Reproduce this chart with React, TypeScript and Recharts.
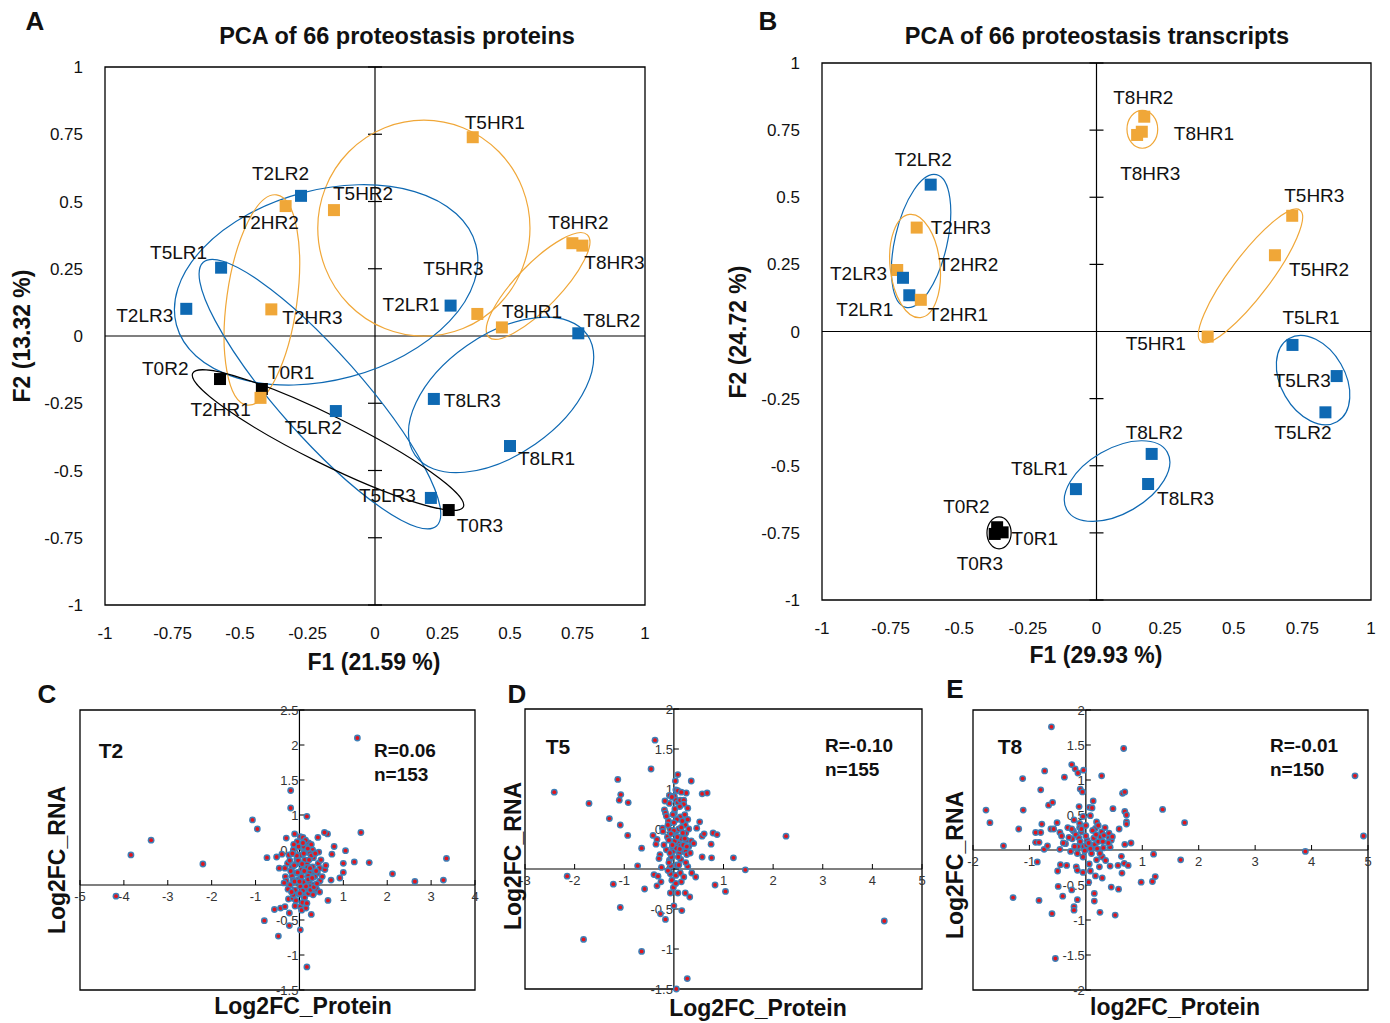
import React from "react";
import { ScatterChart, Scatter, XAxis, YAxis, ReferenceLine, ReferenceArea } from "recharts";

const FONT = '"Liberation Sans", Arial, Helvetica, sans-serif';
const BLUE = "#0E69B3";
const ORANGE = "#F0A738";
const BLACK = "#000000";
const DOT_OUTER = "#3F7FB6";
const DOT_INNER = "#E3141C";

// ---- Panel A: PCA of proteins ----
const proteinSamples = ["T5HR1", "T2LR2", "T2HR2", "T5HR2", "T8HR2", "T8HR3", "T5LR1", "T5HR3", "T2LR1", "T8HR1", "T8LR2",
  "T2LR3", "T2HR3", "T0R2", "T0R1", "T2HR1", "T5LR2", "T8LR3", "T8LR1", "T5LR3", "T0R3"];
const proteinF1 = [0.362, -0.274, -0.331, -0.152, 0.731, 0.768, -0.57, 0.379, 0.28, 0.47, 0.753,
  -0.699, -0.384, -0.574, -0.419, -0.424, -0.145, 0.218, 0.5, 0.207, 0.273];
const proteinF2 = [0.739, 0.521, 0.483, 0.468, 0.345, 0.336, 0.254, 0.082, 0.113, 0.032, 0.01,
  0.101, 0.099, -0.16, -0.197, -0.23, -0.279, -0.234, -0.409, -0.602, -0.647];
// confidence ellipses: [centre F1, centre F2, radius 1, radius 2, rotation deg, group]
const proteinEllipses: [number, number, number, number, number, string][] = [
  [0.181, 0.401, 0.393, 0.4, 0, "HR"],
  [-0.181, 0.19, 0.574, 0.352, -15, "LR"],
  [-0.419, 0.134, 0.13, 0.393, 8, "HR"],
  [-0.204, -0.216, 0.652, 0.156, 48.5, "LR"],
  [-0.174, -0.387, 0.559, 0.089, 26.3, "T0"],
  [0.604, 0.186, 0.263, 0.081, -46, "HR"],
  [0.467, -0.219, 0.389, 0.222, -35, "LR"],
];
const proteinLabelOffset: Record<string, [number, number]> = {
  T5HR1: [-8, -15], T2LR2: [-49, -23], T2HR2: [-47, 16], T5HR2: [-1, -17], T8HR2: [-24, -21], T8HR3: [2, 17],
  T5LR1: [-71, -15], T5HR3: [-54, -46], T2LR1: [-68, -1], T8HR1: [0, -16], T8LR2: [5, -13], T2LR3: [-70, 7],
  T2HR3: [11, 8], T0R2: [-78, -11], T0R1: [6, -17], T2HR1: [-70, 11], T5LR2: [-51, 16], T8LR3: [10, 1],
  T8LR1: [8, 12], T5LR3: [-72, -3], T0R3: [8, 15],
};

// ---- Panel B: PCA of transcripts ----
const transcriptSamples = ["T2LR2", "T2HR3", "T2HR2", "T2LR3", "T2LR1", "T2HR1", "T8HR2", "T8HR1", "T8HR3", "T5HR3", "T5HR2",
  "T5HR1", "T5LR1", "T5LR3", "T5LR2", "T8LR2", "T8LR3", "T8LR1", "T0R2", "T0R1", "T0R3"];
const transcriptF1 = [-0.604, -0.655, -0.726, -0.705, -0.682, -0.64, 0.174, 0.165, 0.148, 0.713, 0.65,
  0.405, 0.714, 0.875, 0.834, 0.201, 0.188, -0.075, -0.362, -0.342, -0.371];
const transcriptF2 = [0.547, 0.387, 0.229, 0.2, 0.135, 0.118, 0.8, 0.744, 0.732, 0.431, 0.284,
  -0.019, -0.05, -0.166, -0.301, -0.456, -0.568, -0.587, -0.729, -0.748, -0.754];
const transcriptEllipses: [number, number, number, number, number, string][] = [
  [-0.639, 0.337, 0.095, 0.248, 13, "LR"],
  [-0.661, 0.244, 0.091, 0.189, -6, "HR"],
  [0.167, 0.753, 0.056, 0.069, 0, "HR"],
  [0.561, 0.207, 0.3, 0.073, -53, "HR"],
  [0.789, -0.181, 0.175, 0.117, 60, "LR"],
  [0.075, -0.557, 0.211, 0.118, -30, "LR"],
  [-0.355, -0.75, 0.044, 0.058, 0, "T0"],
];
const transcriptLabelOffset: Record<string, [number, number]> = {
  T2LR2: [-36, -25], T2HR3: [14, 0], T2HR2: [41, -6], T2LR3: [-73, -4], T2LR1: [-73, 14], T2HR1: [7, 15],
  T8HR2: [-31, -19], T8HR1: [32, 2], T8HR3: [-17, 38], T5HR3: [-8, -20], T5HR2: [14, 14], T5HR1: [-82, 7],
  T5LR1: [-10, -28], T5LR3: [-63, 4], T5LR2: [-51, 20], T8LR2: [-26, -22], T8LR3: [9, 14], T8LR1: [-65, -21],
  T0R2: [-54, -21], T0R1: [9, 6], T0R3: [-38, 29],
};

const pcaTicks = [-1, -0.75, -0.5, -0.25, 0, 0.25, 0.5, 0.75, 1];

// ---- Panels C, D, E: log2FC protein vs RNA ----
const t2Points: [number, number][] = [
  [-4.18, -0.16], [-3.84, 0.43], [-3.38, 0.64], [-2.2, 0.3], [-1.07, 0.93], [-0.96, 0.8], [-0.2, 1.35], [-0.2, 1.1],
  [0.17, 0.98], [1.32, 2.1], [1.4, 0.75], [3.35, 0.38], [3.28, 0.07], [2.63, 0.05], [2.12, 0.16], [1.59, 0.32],
  [1.25, 0.33], [1.05, 0.49], [1.0, 0.31], [1.0, 0.18], [0.92, 0.1], [0.79, 0.55], [0.74, 0.44], [0.64, 0.73],
  [0.57, 0.75], [0.42, 0.68], [0.65, -0.22], [0.27, -0.42], [0.17, -1.17], [0.02, -0.64], [-0.48, -0.73], [-0.8, -0.51],
  [-0.57, -0.35], [-0.43, -0.33], [-0.23, -0.4], [-0.23, -0.58], [-0.25, -0.2], [-0.15, -0.19], [-0.33, -0.31], [0.02, -0.31],
  [0.05, -0.36], [0.15, -0.33], [-0.74, 0.39], [-0.52, 0.4], [-0.4, 0.44], [-0.3, 0.67], [-0.11, 0.73], [0.02, 0.69],
  [0.08, 0.68], [0.21, 0.6], [0.14, 0.55], [0.3, 0.5], [0.24, 0.45], [0.12, 0.47], [-0.02, 0.55], [-0.14, 0.5],
  [-0.24, 0.43], [-0.27, 0.31], [-0.46, 0.24], [-0.33, 0.24], [-0.17, 0.25], [-0.06, 0.37], [-0.08, 0.3], [0.02, 0.43],
  [0.17, 0.31], [0.32, 0.39], [0.43, 0.31], [0.46, 0.24], [0.58, 0.22], [0.49, 0.36], [0.29, 0.17], [0.41, 0.17],
  [0.23, 0.18], [0.2, 0.13], [0.06, 0.19], [-0.08, 0.17], [-0.17, 0.13], [-0.32, 0.12], [-0.3, 0.06], [-0.14, 0.07],
  [-0.02, 0.08], [0.09, 0.04], [0.22, 0.05], [0.47, 0.06], [0.72, 0.07], [0.32, 0.0], [0.24, -0.02], [0.14, -0.05],
  [0.02, -0.02], [-0.1, -0.07], [-0.21, 0.0], [0.39, -0.06], [0.46, -0.1], [0.32, -0.12], [0.2, -0.12], [0.09, -0.16],
  [-0.02, -0.13], [-0.14, -0.14], [0.05, 0.22], [0.12, 0.36], [-0.05, 0.62], [0.35, 0.12], [0.27, 0.42], [-0.11, 0.05],
  [0.08, -0.08], [0.18, 0.25], [-0.2, 0.2], [0.3, 0.26], [0.1, 0.55], [-0.03, 0.35], [0.15, -0.02], [0.38, 0.2],
  [-0.26, -0.06], [0.25, -0.07], [0.05, 0.12], [-0.08, -0.22], [0.2, 0.08], [0.12, -0.18], [0.44, 0.47], [-0.12, 0.28],
  [0.33, -0.03], [0.06, 0.3], [-0.18, -0.1], [0.14, 0.64], [0.27, 0.58], [0.01, -0.12], [-0.35, 0.03], [0.52, 0.12],
  [0.1, 0.45], [-0.06, 0.42], [0.22, 0.36], [0.4, 0.02], [0.07, -0.25], [-0.13, 0.58], [0.29, 0.1], [0.17, -0.26],
  [-0.22, 0.35], [0.11, 0.2], [0.36, 0.45], [0.0, 0.05], [-0.1, -0.3], [0.24, 0.24], [0.6, 0.28], [-0.04, 0.18],
  [0.19, 0.52], [0.08, 0.6], [0.31, -0.14], [-0.16, 0.45],
];
const t5Points: [number, number][] = [
  [-2.41, 0.96], [-2.15, -0.09], [-1.71, 0.82], [-1.82, -0.88], [-1.3, 0.63], [-1.22, -0.19], [-1.13, 1.12], [-1.07, 0.93],
  [-1.1, 0.86], [-0.92, 0.83], [-1.08, 0.55], [-0.93, 0.42], [-1.08, -0.48], [-0.65, 0.26], [-0.73, 0.04], [-0.59, -0.25],
  [-0.65, -1.03], [-0.46, 1.25], [-0.38, 1.61], [-0.42, 0.42], [-0.4, -0.07], [-0.34, 0.37], [-0.36, 0.31], [-0.32, -0.09],
  [-0.28, 0.18], [-0.3, 0.13], [-0.34, -0.21], [-0.26, -0.16], [-0.27, -0.56], [-0.17, -0.63], [-0.23, 0.51], [-0.19, 0.74],
  [-0.17, 0.7], [-0.09, 0.92], [-0.09, 0.82], [-0.11, 0.6], [-0.13, 0.4], [-0.15, 0.24], [-0.09, 0.11], [-0.06, 0.04],
  [-0.07, -0.06], [-0.04, -0.14], [-0.07, -0.3], [-0.01, -0.23], [0.0, -0.46], [0.03, 1.1], [0.04, 0.99], [0.08, 1.18],
  [0.01, 0.91], [0.04, 0.86], [0.08, 0.83], [0.01, 0.7], [0.04, 0.47], [0.07, 0.4], [0.01, 0.32], [0.09, 0.32],
  [0.15, 0.38], [0.13, 0.29], [0.17, 0.22], [0.11, 0.2], [0.06, 0.05], [0.04, -0.08], [0.13, -0.05], [0.15, -0.16],
  [0.08, -0.3], [0.16, -0.52], [0.13, 0.86], [0.13, 0.65], [0.2, 0.86], [0.25, 0.95], [0.2, 0.81], [0.28, 0.76],
  [0.22, 0.68], [0.23, 0.55], [0.24, 0.45], [0.25, 0.36], [0.23, 0.28], [0.3, 0.28], [0.24, 0.22], [0.28, 0.03],
  [0.23, -0.3], [0.32, -0.35], [0.36, -0.05], [0.35, 1.1], [0.44, -0.1], [0.46, 0.51], [0.52, 0.59], [0.57, 0.41],
  [0.61, 0.44], [0.57, 0.94], [0.67, 0.95], [0.75, 0.31], [0.79, 0.45], [0.87, 0.43], [0.76, 0.14], [0.57, 0.15],
  [0.83, -0.2], [1.04, -0.28], [1.2, 0.14], [1.44, -0.01], [2.26, 0.41], [4.24, -0.65], [0.27, -1.37], [0.05, -1.5],
  [-0.02, 0.22], [-0.03, 0.28], [-0.07, 0.49], [0.02, 0.35], [-0.05, 0.15], [0.1, 0.5], [0.18, 0.45], [-0.12, 0.55],
  [0.06, 0.62], [0.12, 0.78], [-0.02, 0.68], [0.22, 0.38], [0.3, 0.5], [-0.2, 0.3], [0.05, 0.26], [0.14, 0.12],
  [-0.1, 0.08], [0.26, 0.18], [0.08, 0.98], [-0.04, 0.9], [0.17, 0.6], [0.35, 0.35], [-0.15, 0.66], [0.0, 0.48],
  [0.1, 0.05], [-0.25, 0.02], [0.2, -0.1], [0.04, -0.18], [-0.08, 0.2], [0.28, 0.62], [0.15, 0.96], [-0.18, 0.85],
  [0.07, 0.4], [0.33, 0.2], [-0.03, 0.3], [0.12, 0.25], [0.24, 0.08], [-0.12, -0.02], [0.02, 0.75], [0.19, 0.3],
  [-0.06, 0.44], [0.4, 0.32], [0.09, 0.15], [-0.22, 0.47], [0.26, 0.28], [0.0, 0.58], [0.15, 0.52], [-0.1, 0.36],
];
const t8Points: [number, number][] = [
  [-1.77, 0.57], [-1.7, 0.39], [-1.46, 0.06], [-1.29, -0.68], [-1.19, 0.3], [-1.12, 1.02], [-1.11, 0.57], [-0.89, 0.25],
  [-0.89, 0.11], [-0.86, -0.17], [-0.83, -0.72], [-0.83, 0.11], [-0.8, 0.86], [-0.8, 0.25], [-0.78, 0.37], [-0.74, 0.01],
  [-0.73, 1.13], [-0.68, 0.06], [-0.66, 0.64], [-0.62, 0.3], [-0.59, 0.68], [-0.61, 1.76], [-0.6, -0.91], [-0.57, 0.3],
  [-0.54, -1.55], [-0.51, 0.39], [-0.49, -0.52], [-0.5, -0.3], [-0.46, 0.01], [-0.46, 0.25], [-0.45, -0.21], [-0.43, 0.2],
  [-0.41, -0.66], [-0.38, 1.04], [-0.36, 0.09], [-0.34, -0.22], [-0.32, 0.32], [-0.27, -0.02], [-0.25, -0.57], [-0.25, 1.22],
  [-0.24, 0.16], [-0.22, 0.27], [-0.21, 0.43], [-0.21, -0.81], [-0.21, -0.86], [-0.19, 1.16], [-0.18, 0.22], [-0.17, -0.24],
  [-0.15, -0.29], [-0.15, -0.71], [-0.14, 0.05], [-0.14, 1.1], [-0.12, 0.17], [-0.12, 0.62], [-0.11, 0.38], [-0.11, 0.32],
  [-0.1, 0.87], [-0.08, 0.26], [-0.06, 0.83], [-0.05, 0.48], [-0.05, -0.32], [-0.04, 1.14], [-0.04, 0.05], [-0.02, -0.01],
  [0.01, 0.07], [0.02, 0.14], [0.05, -0.46], [0.06, 0.61], [0.08, -0.3], [0.08, 0.49], [0.11, 0.6], [0.13, 0.7],
  [0.13, 0.05], [0.14, 0.17], [0.16, 0.08], [0.17, 0.31], [0.17, -0.37], [0.15, -0.62], [0.15, -0.73], [0.19, -0.14],
  [0.19, 0.4], [0.22, 0.12], [0.24, -0.24], [0.25, -0.89], [0.26, 0.19], [0.28, 1.06], [0.28, 0.26], [0.29, -0.1],
  [0.29, -0.4], [0.31, 0.03], [0.32, 0.21], [0.34, 0.32], [0.41, 0.18], [0.41, 0.24], [0.43, 0.04], [0.43, -0.23],
  [0.45, 0.14], [0.47, 0.19], [0.45, -0.53], [0.48, 0.59], [0.52, -0.93], [0.57, -0.22], [0.58, -0.56], [0.59, 0.3],
  [0.63, -0.09], [0.64, -0.33], [0.65, 0.81], [0.67, 1.45], [0.69, 0.83], [0.68, -0.19], [0.69, 0.08], [0.69, 0.55],
  [0.72, 0.5], [0.72, 0.4], [0.72, 0.37], [0.75, -0.22], [0.8, 0.1], [0.98, -0.46], [1.18, -0.45], [1.2, -0.06],
  [1.23, -0.38], [1.36, 0.58], [1.68, -0.14], [1.75, 0.39], [3.89, -0.02], [4.77, 1.06], [4.92, 0.2],
  [0.05, 0.1], [-0.1, 0.12], [0.2, 0.02], [-0.2, 0.05], [0.1, -0.05], [0.0, 0.2], [0.3, 0.12], [-0.3, 0.18],
  [0.12, 0.28], [-0.05, -0.1], [0.25, -0.05], [0.4, 0.1], [-0.4, 0.1], [0.06, -0.2], [0.18, 0.22], [-0.15, -0.05],
  [0.35, -0.15], [0.0, 0.35], [-0.25, 0.3], [0.22, 0.35], [0.08, 0.02], [-0.08, 0.3],
];

const t2TicksX = [-5, -4, -3, -2, -1, 1, 2, 3, 4];
const t2TicksY = [-1.5, -1, -0.5, 0, 0.5, 1, 1.5, 2, 2.5];
const t5TicksX = [-3, -2, -1, 1, 2, 3, 4, 5];
const t5TicksY = [-1.5, -1, -0.5, 0, 0.5, 1, 1.5, 2];
const t8TicksX = [-2, -1, 1, 2, 3, 4, 5];
const t8TicksY = [-2, -1.5, -1, -0.5, 0, 0.5, 1, 1.5, 2];

const groupColor: Record<string, string> = { HR: ORANGE, LR: BLUE, T0: BLACK };
const sampleColor = (name: string) => (name.startsWith("T0") ? BLACK : name.includes("HR") ? ORANGE : BLUE);

const Txt = ({ x, y, size, anchor = "middle", children }: any) => (
  <div
    style={{
      position: "absolute",
      left: x,
      top: y,
      fontFamily: FONT,
      fontSize: size,
      fontWeight: 700,
      lineHeight: 1,
      whiteSpace: "nowrap",
      color: "#111",
      transform: `translate(${anchor === "middle" ? "-50%" : "0"}, -50%)`,
    }}
  >
    {children}
  </div>
);

const RotTxt = ({ x, y, size, children }: any) => (
  <div
    style={{
      position: "absolute",
      left: x,
      top: y,
      fontFamily: FONT,
      fontSize: size,
      fontWeight: 700,
      lineHeight: 1,
      whiteSpace: "nowrap",
      color: "#111",
      transform: "translate(-50%, -50%) rotate(-90deg)",
    }}
  >
    {children}
  </div>
);

const ellipseShape = (k: number) => (props: any) => {
  const { cx, cy, payload } = props;
  return (
    <ellipse
      cx={cx}
      cy={cy}
      rx={payload.rx * k}
      ry={payload.ry * k}
      transform={`rotate(${payload.angle} ${cx} ${cy})`}
      fill="none"
      stroke={payload.color}
      strokeWidth={1.2}
    />
  );
};

const squareShape = (props: any) => {
  const { cx, cy, payload } = props;
  return <rect x={cx - 6} y={cy - 6} width={12} height={12} fill={payload.color} />;
};

const labelShape = (offsets: Record<string, [number, number]>) => (props: any) => {
  const { cx, cy, payload } = props;
  const [dx, dy] = offsets[payload.name] || [8, 0];
  return (
    <text x={cx + dx} y={cy + dy} dy="0.35em" fontSize={19} fontFamily={FONT} fill="#111">
      {payload.name}
    </text>
  );
};

const centreTick = (props: any) => {
  const { cx, cy } = props;
  return <line x1={cx - 7} x2={cx + 7} y1={cy} y2={cy} stroke="#000" strokeWidth={1.2} />;
};

const PcaChart = ({ samples, f1, f2, ellipses, offsets, width, height, margin, k }: any) => {
  const points = samples.map((name: string, i: number) => ({ name, x: f1[i], y: f2[i], color: sampleColor(name) }));
  const ells = ellipses.map((e: any) => ({ x: e[0], y: e[1], rx: e[2], ry: e[3], angle: e[4], color: groupColor[e[5]] }));
  const marks = pcaTicks.filter((v) => v !== 0).map((v) => ({ x: 0, y: v }));
  const tick = { fontSize: 17, fill: "#111", fontFamily: FONT };
  return (
    <ScatterChart width={width} height={height} margin={margin}>
      <XAxis type="number" dataKey="x" domain={[-1, 1]} ticks={pcaTicks} interval={0} tickFormatter={(v) => String(v)}
        axisLine={false} tickLine={false} tickSize={0} tickMargin={22} height={40} tick={tick} />
      <YAxis type="number" dataKey="y" domain={[-1, 1]} ticks={pcaTicks} interval={0} tickFormatter={(v) => String(v)}
        axisLine={false} tickLine={false} tickSize={0} tickMargin={22} width={100} tick={tick} />
      <ReferenceArea x1={-1} x2={1} y1={-1} y2={1} fill="none" fillOpacity={0} stroke="#000" strokeWidth={1.3} />
      <ReferenceLine x={0} stroke="#000" strokeWidth={1.2} />
      <ReferenceLine y={0} stroke="#000" strokeWidth={1.2} />
      <Scatter data={marks} shape={centreTick} isAnimationActive={false} />
      <Scatter data={ells} shape={ellipseShape(k)} isAnimationActive={false} />
      <Scatter data={points} shape={squareShape} isAnimationActive={false} />
      <Scatter data={points} shape={labelShape(offsets)} isAnimationActive={false} />
    </ScatterChart>
  );
};

const dotShape = (props: any) => {
  const { cx, cy } = props;
  return (
    <g>
      <circle cx={cx} cy={cy} r={3.4} fill={DOT_OUTER} />
      <circle cx={cx} cy={cy} r={1.9} fill={DOT_INNER} />
    </g>
  );
};

const xTickShape = (props: any) => {
  const { cx, cy, payload } = props;
  return (
    <g>
      <line x1={cx} x2={cx} y1={cy} y2={cy - 5} stroke="#000" strokeWidth={1} />
      <text x={cx} y={cy + 11} dy="0.35em" textAnchor="middle" fontSize={13} fontFamily={FONT} fill="#333">
        {payload.x}
      </text>
    </g>
  );
};

const yTickShape = (props: any) => {
  const { cx, cy, payload } = props;
  return (
    <g>
      <line x1={cx} x2={cx + 5} y1={cy} y2={cy} stroke="#000" strokeWidth={1} />
      <text x={cx - 1} y={cy} dy="0.35em" textAnchor="end" fontSize={13} fontFamily={FONT} fill="#333">
        {payload.y}
      </text>
    </g>
  );
};

const FcChart = ({ points, xDomain, yDomain, ticksX, ticksY, width, height, margin }: any) => {
  const data = points.map((p: [number, number]) => ({ x: p[0], y: p[1] }));
  const xt = ticksX.map((v: number) => ({ x: v, y: 0 }));
  const yt = ticksY.map((v: number) => ({ x: 0, y: v }));
  return (
    <ScatterChart width={width} height={height} margin={margin}>
      <XAxis type="number" dataKey="x" domain={xDomain} hide />
      <YAxis type="number" dataKey="y" domain={yDomain} hide />
      <ReferenceArea x1={xDomain[0]} x2={xDomain[1]} y1={yDomain[0]} y2={yDomain[1]} fill="none" fillOpacity={0}
        stroke="#000" strokeWidth={1.3} />
      <ReferenceLine x={0} stroke="#000" strokeWidth={1.2} />
      <ReferenceLine y={0} stroke="#000" strokeWidth={1.2} />
      <Scatter data={xt} shape={xTickShape} isAnimationActive={false} />
      <Scatter data={yt} shape={yTickShape} isAnimationActive={false} />
      <Scatter data={data} shape={dotShape} isAnimationActive={false} />
    </ScatterChart>
  );
};

const Box = ({ left, top, children }: any) => (
  <div style={{ position: "absolute", left, top }}>{children}</div>
);

export default function App() {
  return (
    <div style={{ position: "absolute", left: 0, top: 0, width: 1390, height: 1023, background: "#fff", overflow: "hidden" }}>
      <Box left={0} top={0}>
        <PcaChart samples={proteinSamples} f1={proteinF1} f2={proteinF2} ellipses={proteinEllipses}
          offsets={proteinLabelOffset} width={660} height={690} k={270}
          margin={{ top: 67, right: 15, left: 5, bottom: 45 }} />
      </Box>
      <Box left={720} top={0}>
        <PcaChart samples={transcriptSamples} f1={transcriptF1} f2={transcriptF2} ellipses={transcriptEllipses}
          offsets={transcriptLabelOffset} width={670} height={690} k={274.5}
          margin={{ top: 63, right: 19, left: 2, bottom: 50 }} />
      </Box>
      <Box left={0} top={690}>
        <FcChart points={t2Points} xDomain={[-5, 4]} yDomain={[-1.5, 2.5]} ticksX={t2TicksX} ticksY={t2TicksY}
          width={490} height={330} margin={{ top: 20, right: 15, left: 80, bottom: 30 }} />
      </Box>
      <Box left={500} top={690}>
        <FcChart points={t5Points} xDomain={[-3, 5]} yDomain={[-1.5, 2]} ticksX={t5TicksX} ticksY={t5TicksY}
          width={440} height={330} margin={{ top: 19, right: 18, left: 25, bottom: 31 }} />
      </Box>
      <Box left={950} top={690}>
        <FcChart points={t8Points} xDomain={[-2, 5]} yDomain={[-2, 2]} ticksX={t8TicksX} ticksY={t8TicksY}
          width={440} height={330} margin={{ top: 20, right: 22, left: 23, bottom: 30 }} />
      </Box>

      <Txt x={35} y={21} size={26}>A</Txt>
      <Txt x={768} y={21} size={26}>B</Txt>
      <Txt x={47} y={694} size={26}>C</Txt>
      <Txt x={517} y={694} size={26}>D</Txt>
      <Txt x={955} y={689} size={26}>E</Txt>

      <Txt x={397} y={37} size={23.5}>PCA of 66 proteostasis proteins</Txt>
      <Txt x={1097} y={37} size={23.5}>PCA of 66 proteostasis transcripts</Txt>
      <Txt x={374} y={662} size={23}>F1 (21.59 %)</Txt>
      <RotTxt x={22} y={336} size={23}>F2 (13.32 %)</RotTxt>
      <Txt x={1096} y={655} size={23}>F1 (29.93 %)</Txt>
      <RotTxt x={738} y={332} size={23}>F2 (24.72 %)</RotTxt>

      <Txt x={303} y={1006} size={23}>Log2FC_Protein</Txt>
      <RotTxt x={57} y={860} size={23}>Log2FC_RNA</RotTxt>
      <Txt x={111} y={750} size={21}>T2</Txt>
      <Txt x={374} y={750} size={19} anchor="start">R=0.06</Txt>
      <Txt x={374} y={774} size={19} anchor="start">n=153</Txt>

      <Txt x={758} y={1008} size={23}>Log2FC_Protein</Txt>
      <RotTxt x={513} y={856} size={23}>Log2FC_RNA</RotTxt>
      <Txt x={558} y={746} size={21}>T5</Txt>
      <Txt x={825} y={745} size={19} anchor="start">R=-0.10</Txt>
      <Txt x={825} y={769} size={19} anchor="start">n=155</Txt>

      <Txt x={1175} y={1007} size={23}>log2FC_Protein</Txt>
      <RotTxt x={955} y={865} size={23}>Log2FC_RNA</RotTxt>
      <Txt x={1010} y={746} size={21}>T8</Txt>
      <Txt x={1270} y={745} size={19} anchor="start">R=-0.01</Txt>
      <Txt x={1270} y={769} size={19} anchor="start">n=150</Txt>
    </div>
  );
}
